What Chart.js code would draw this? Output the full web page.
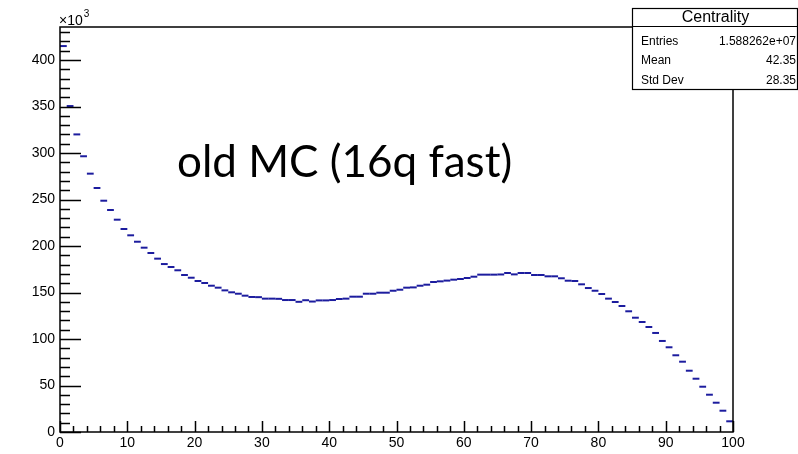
<!DOCTYPE html>
<html>
<head>
<meta charset="utf-8">
<script src="https://cdn.jsdelivr.net/npm/chart.js@4/dist/chart.umd.min.js"></script>
<style>
  body { margin: 0; background: #fff; }
  #wrap { position: relative; width: 798px; height: 454px; }
</style>
</head>
<body>
<div id="wrap"><canvas id="centrality" width="798" height="454"></canvas></div>
<script>
// Centrality histogram, 100 bins of width 1, counts in units of 10^3
const binLow = 0;
const binHigh = 100;
const counts = [
  415.0, 350.5, 320.0, 296.5, 277.8, 262.4, 248.7, 238.7, 228.3, 218.3,
  211.5, 204.6, 198.2, 192.5, 186.4, 180.6, 177.4, 173.9, 168.8, 165.9,
  162.4, 160.2, 157.3, 155.2, 152.3, 150.2, 148.7, 146.6, 145.2, 145.0,
  143.4, 143.4, 143.2, 141.9, 141.9, 140.0, 141.7, 140.3, 141.5, 141.5,
  141.9, 143.0, 143.4, 145.5, 145.5, 148.7, 148.7, 149.8, 149.8, 151.9,
  153.0, 155.2, 155.5, 157.3, 158.4, 161.3, 162.0, 162.8, 163.8, 164.5,
  165.6, 167.0, 169.2, 169.2, 169.2, 169.4, 171.0, 169.5, 171.0, 171.0,
  168.8, 168.8, 167.4, 167.4, 165.3, 162.7, 162.4, 158.8, 154.8, 151.9,
  148.4, 143.4, 139.8, 135.5, 129.8, 122.9, 118.3, 112.9, 106.5, 97.9,
  91.1, 82.5, 75.6, 65.9, 57.3, 48.7, 40.1, 31.5, 22.9, 11.5
];
const yTop = 435.5;
const statsTitle = 'Centrality';
const statsLabels = ['Entries', 'Mean', 'Std Dev'];
const statsValues = ['1.588262e+07', '42.35', '28.35'];
const overlayText = 'old MC (16q fast)';

const binWidth = (binHigh - binLow) / counts.length;

// ROOT style frame: box around the pad with ticks pointing inwards
const rootFrame = {
  id: 'rootFrame',
  afterDraw(chart) {
    const { ctx, chartArea: a, scales: { x, y } } = chart;
    ctx.save();
    ctx.strokeStyle = '#000';
    ctx.lineWidth = 1.5;
    ctx.strokeRect(a.left, a.top, a.right - a.left, a.bottom - a.top);

    ctx.beginPath();
    for (let v = binLow; v <= binHigh; v += 2) {
      const px = Math.round(x.getPixelForValue(v)) + 0.5;
      const len = v % 10 === 0 ? 11 : 6;
      ctx.moveTo(px, a.bottom);
      ctx.lineTo(px, a.bottom - len);
    }
    for (let v = 0; v <= yTop; v += 10) {
      const py = Math.round(y.getPixelForValue(v)) + 0.5;
      const len = v % 50 === 0 ? 21 : 10;
      ctx.moveTo(a.left, py);
      ctx.lineTo(a.left + len, py);
    }
    ctx.stroke();

    // exponent label
    ctx.fillStyle = '#000';
    ctx.textBaseline = 'alphabetic';
    ctx.textAlign = 'left';
    ctx.font = '14px "Liberation Sans", Arial, sans-serif';
    ctx.fillText('\u00d710', a.left - 1, a.top - 2);
    const w = ctx.measureText('\u00d710').width;
    ctx.font = '10px "Liberation Sans", Arial, sans-serif';
    ctx.fillText('3', a.left - 1 + w + 1, a.top - 10);

    // statistics box
    const bx = 632, by = 8, bw = 165, bh = 81, titleH = 18;
    ctx.fillStyle = '#fff';
    ctx.fillRect(bx, by, bw, bh);
    ctx.lineWidth = 1.2;
    ctx.strokeRect(bx + 0.5, by + 0.5, bw, bh);
    ctx.beginPath();
    ctx.moveTo(bx, by + titleH + 0.5);
    ctx.lineTo(bx + bw, by + titleH + 0.5);
    ctx.stroke();
    ctx.fillStyle = '#000';
    ctx.textAlign = 'center';
    ctx.textBaseline = 'middle';
    ctx.font = '16px "Liberation Sans", Arial, sans-serif';
    ctx.fillText(statsTitle, bx + bw / 2 + 1, by + titleH / 2 + 1);
    ctx.font = '12px "Liberation Sans", Arial, sans-serif';
    statsLabels.forEach((lab, i) => {
      const ry = by + titleH + 15.5 + i * 19.5;
      ctx.textAlign = 'left';
      ctx.fillText(lab, bx + 9, ry);
      ctx.textAlign = 'right';
      ctx.fillText(statsValues[i], bx + bw - 1, ry);
    });

    // slide annotation
    ctx.textAlign = 'left';
    ctx.textBaseline = 'alphabetic';
    ctx.font = '44px Lato, "Open Sans", sans-serif';
    ctx.fillText(overlayText, 177, 177);
    ctx.restore();
  }
};

const tickFont = { family: '"Liberation Sans", Arial, sans-serif', size: 14 };

new Chart(document.getElementById('centrality'), {
  type: 'scatter',
  data: {
    datasets: [{
      label: 'Centrality',
      data: counts.map((v, i) => ({ x: binLow + (i + 0.5) * binWidth, y: v })),
      pointStyle: 'line',
      pointRadius: 3.4,
      pointBorderWidth: 2,
      pointBorderColor: '#1c1c9e',
      pointBackgroundColor: '#1c1c9e'
    }]
  },
  options: {
    responsive: false,
    animation: false,
    events: [],
    layout: { padding: { top: 27, right: 65, left: 0, bottom: 0 } },
    plugins: { legend: { display: false }, tooltip: { enabled: false } },
    scales: {
      x: {
        type: 'linear',
        min: binLow,
        max: binHigh,
        ticks: { stepSize: 10, font: tickFont, color: '#000', padding: 3, maxRotation: 0 },
        grid: { display: false, drawTicks: false },
        border: { display: false },
        afterFit(s) { s.height = 22; }
      },
      y: {
        min: 0,
        max: yTop,
        ticks: { stepSize: 50, font: tickFont, color: '#000', padding: 5 },
        grid: { display: false, drawTicks: false },
        border: { display: false },
        afterBuildTicks(s) { s.ticks = s.ticks.filter(t => t.value % 50 === 0); },
        afterFit(s) { s.width = 60; }
      }
    }
  },
  plugins: [rootFrame]
});
</script>
</body>
</html>
